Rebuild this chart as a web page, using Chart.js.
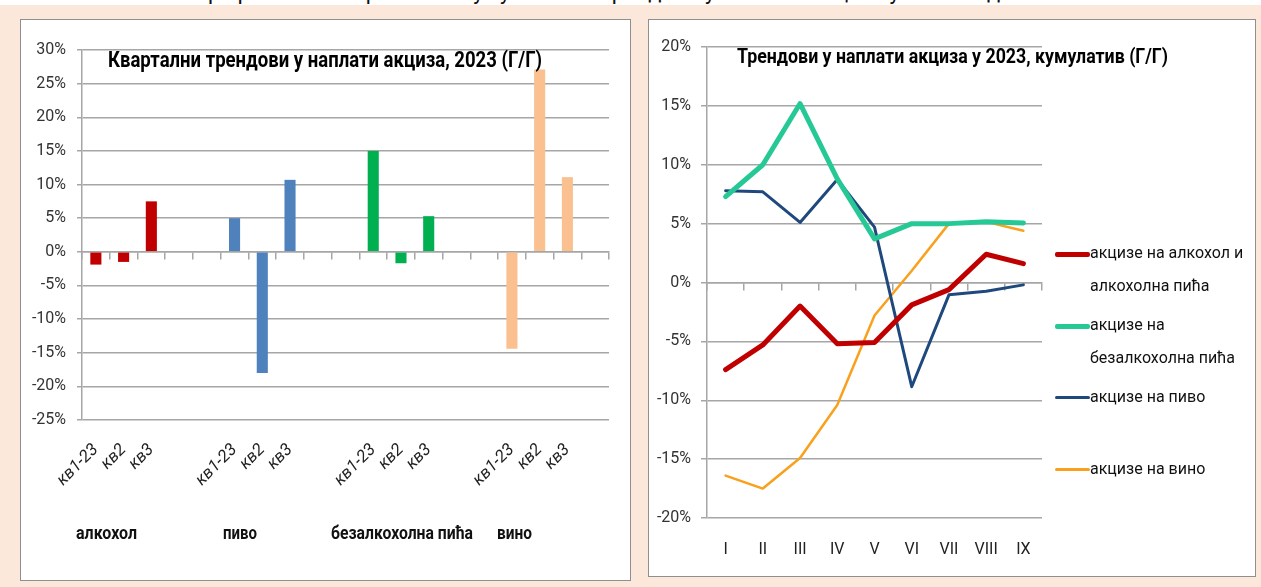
<!DOCTYPE html>
<html>
<head>
<meta charset="utf-8">
<script src="https://cdn.jsdelivr.net/npm/chart.js@4.4.0/dist/chart.umd.min.js"></script>
<style>
  body { margin:0; width:1261px; height:587px; background:#FBE8DA; position:relative; overflow:hidden;
    font-family:Roboto,"Liberation Sans",sans-serif; color:#111; }
  .topband { position:absolute; left:0; top:0; width:1261px; height:5px; background:#fff; overflow:hidden; }
  .topband span { position:absolute; left:198px; top:-21px; font-size:22px; line-height:26px; white-space:nowrap; }
  .panel { position:absolute; background:#fff; border:1px solid #8f8f8f; box-sizing:border-box; }
  #leftPanel { left:20px; top:19px; width:611px; height:562px; }
  #rightPanel { left:648px; top:19px; width:608px; height:558px; }
  .wrap { position:absolute; }
  .fit { position:absolute; white-space:nowrap; transform-origin:left top; }
  .title { font-weight:bold; color:#000; }
  .group { top:522px; font-size:18px; line-height:22px; font-weight:bold; }
  #legend { position:absolute; left:1055px; top:236px; }
  .item { height:72px; display:flex; align-items:flex-start; }
  .swatch { width:35px; margin-top:16px; flex:none; }
  .item span { width:168px; font-size:16px; line-height:33px; color:#111; }
</style>
</head>
<body>
<div class="topband"><span>Графикон 2. Квартални и кумулативни трендови у наплати акциза у 2023. години</span></div>
<div class="panel" id="leftPanel"></div>
<div class="panel" id="rightPanel"></div>

<div class="wrap" style="left:20px;top:19px;"><canvas id="barChart" width="610" height="561"></canvas></div>
<div class="wrap" style="left:648px;top:19px;"><canvas id="lineChart" width="607" height="557"></canvas></div>

<div class="fit title" data-w="434" style="left:108px;top:46px;font-size:22px;line-height:28px;">Квартални трендови у наплати акциза, 2023 (Г/Г)</div>
<div class="fit title" data-w="431" style="left:737px;top:43px;font-size:21px;line-height:27px;">Трендови у наплати акциза у 2023, кумулатив (Г/Г)</div>
<div id="groups"></div>
<div id="legend"></div>

<script>
// QUARTERLY BAR CHART DATA

const quarterLabels = ['кв1-23', 'кв2', 'кв3'];
const groupNames = ['алкохол', 'пиво', 'безалкохолна пића', 'вино'];
const alcoholQuarterly = [-1.9, -1.5, 7.5];
const beerQuarterly = [5.0, -18.0, 10.7];
const softDrinksQuarterly = [15.0, -1.7, 5.3];
const wineQuarterly = [-14.4, 27.1, 11.1];
const groupColors = ['#C00000', '#4F81BD', '#00B050', '#FAC090'];
const barTicks = [-25, -20, -15, -10, -5, 0, 5, 10, 15, 20, 25, 30];

// CUMULATIVE LINE CHART DATA

const months = ['I', 'II', 'III', 'IV', 'V', 'VI', 'VII', 'VIII', 'IX'];
const alcoholCumulative = [-7.4, -5.3, -2.0, -5.2, -5.1, -1.9, -0.6, 2.4, 1.6];
const softDrinksCumulative = [7.3, 10.0, 15.2, 8.8, 3.7, 5.0, 5.0, 5.15, 5.05];
const beerCumulative = [7.8, 7.7, 5.1, 8.75, 4.7, -8.85, -1.05, -0.75, -0.2];
const wineCumulative = [-16.4, -17.5, -14.9, -10.4, -2.8, 1.0, 5.0, 5.15, 4.4];
const lineNames = ['акцизе на алкохол и алкохолна пића', 'акцизе на безалкохолна пића', 'акцизе на пиво', 'акцизе на вино'];
const lineColors = ['#C00000', '#26C996', '#1F497D', '#F9A11D'];
const lineWidths = [5, 5, 3, 2.5];

// group label placement under the bar chart (page px): left edge and width
const groupLabelX = [76, 223, 331, 497];
const groupLabelW = [61, 34, 142, 35];

var gridColor = '#A6A6A6';
var tickFont = { family: 'Roboto, "Liberation Sans", sans-serif', size: 16 };

// build the 19 category slots: 3 quarters per group, 2 empty slots between groups, 1 at the end
var groups = [alcoholQuarterly, beerQuarterly, softDrinksQuarterly, wineQuarterly];
var barLabels = [], barValues = [], barColors = [];
groups.forEach(function(vals, g) {
  vals.forEach(function(v, i) {
    barLabels.push(quarterLabels[i]);
    barValues.push(v);
    barColors.push(groupColors[g]);
  });
  var gap = g < groups.length - 1 ? 2 : 1;
  for (var k = 0; k < gap; k++) {
    barLabels.push('');
    barValues.push(null);
    barColors.push('transparent');
  }
});

var barChart = new Chart(document.getElementById('barChart'), {
  type: 'bar',
  data: {
    labels: barLabels,
    datasets: [{
      data: barValues,
      backgroundColor: barColors,
      barPercentage: 0.4,
      categoryPercentage: 1
    }]
  },
  options: {
    responsive: false,
    animation: false,
    layout: { padding: { left: 0, right: 17, top: 31, bottom: 60 } },
    plugins: { legend: { display: false }, tooltip: { enabled: false } },
    scales: {
      x: {
        position: 'bottom',
        grid: { display: false, drawTicks: false },
        border: { display: false },
        ticks: { autoSkip: false, minRotation: 45, maxRotation: 45, padding: 20, color: '#222',
          font: Object.assign({}, tickFont, { size: 17, style: 'italic' }) },
        afterFit: function(scale) { scale.height = 100; }
      },
      x2: {
        position: { y: 0 },
        offset: true,
        grid: { offset: true, drawOnChartArea: false, drawTicks: true, tickLength: 7, color: gridColor, lineWidth: 1.5 },
        border: { color: gridColor, width: 1.5 },
        ticks: { display: false }
      },
      y: {
        min: -25,
        max: 30,
        afterBuildTicks: function(scale) { scale.ticks = barTicks.map(function(v) { return { value: v }; }); },
        grid: { color: gridColor, lineWidth: 1.5, tickLength: 5 },
        border: { color: gridColor, width: 1.5 },
        ticks: { padding: 11, color: '#333', font: tickFont, callback: function(v) { return v + '%'; } },
        afterFit: function(scale) { scale.width = 62; }
      }
    }
  }
});

var lineDatasets = [alcoholCumulative, softDrinksCumulative, beerCumulative, wineCumulative].map(function(vals, i) {
  return {
    label: lineNames[i],
    data: vals,
    borderColor: lineColors[i],
    backgroundColor: lineColors[i],
    borderWidth: lineWidths[i],
    pointRadius: 0,
    tension: 0,
    borderJoinStyle: 'round',
    borderCapStyle: 'round'
  };
});

var lineChart = new Chart(document.getElementById('lineChart'), {
  type: 'line',
  data: { labels: months, datasets: lineDatasets },
  options: {
    responsive: false,
    animation: false,
    layout: { padding: { left: 0, right: 213, top: 28, bottom: 13 } },
    plugins: { legend: { display: false }, tooltip: { enabled: false } },
    scales: {
      x: {
        position: 'bottom',
        offset: true,
        grid: { display: false, drawTicks: false },
        border: { display: false },
        ticks: { padding: 22, color: '#222', font: tickFont },
        afterFit: function(scale) { scale.height = 45; }
      },
      x2: {
        position: { y: 0 },
        offset: true,
        grid: { offset: true, drawOnChartArea: false, drawTicks: true, tickLength: 7, color: gridColor, lineWidth: 1.5 },
        border: { color: gridColor, width: 1.5 },
        ticks: { display: false }
      },
      y: {
        min: -20,
        max: 20,
        ticks: { stepSize: 5, padding: 10, color: '#333', font: tickFont, callback: function(v) { return v + '%'; } },
        grid: { color: gridColor, lineWidth: 1.5, tickLength: 6 },
        border: { color: gridColor, width: 1.5 },
        afterFit: function(scale) { scale.width = 59; }
      }
    }
  }
});

// group names under the bar chart
var groupsDiv = document.getElementById('groups');
groupNames.forEach(function(name, i) {
  var s = document.createElement('div');
  s.className = 'fit group';
  s.style.left = groupLabelX[i] + 'px';
  s.setAttribute('data-w', groupLabelW[i]);
  s.textContent = name;
  groupsDiv.appendChild(s);
});

// squeeze the narrow-font texts to the widths they have in the picture
document.querySelectorAll('.fit').forEach(function(el) {
  var w = el.getBoundingClientRect().width;
  el.style.transform = 'scaleX(' + (el.getAttribute('data-w') / w) + ')';
});

// legend for the line chart
var legendDiv = document.getElementById('legend');
lineNames.forEach(function(name, i) {
  var item = document.createElement('div');
  item.className = 'item';
  var sw = document.createElement('div');
  sw.className = 'swatch';
  sw.style.height = Math.max(lineWidths[i], 3) + 'px';
  sw.style.background = lineColors[i];
  sw.style.borderRadius = '2px';
  var txt = document.createElement('span');
  txt.textContent = name;
  item.appendChild(sw);
  item.appendChild(txt);
  legendDiv.appendChild(item);
});
</script>
</body>
</html>
